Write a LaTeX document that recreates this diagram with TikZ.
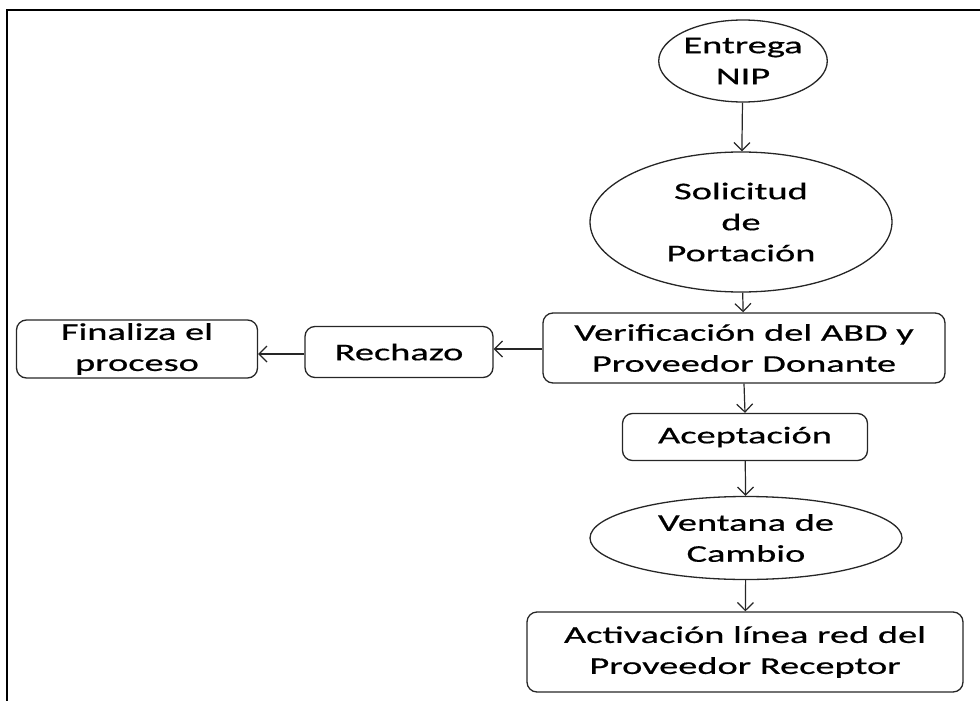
\documentclass[tikz,border=0pt]{standalone}
\usepackage{fontspec}
\setmainfont{Carlito}[FakeStretch=1.6, FakeBold=0.6]
\usetikzlibrary{shapes.geometric,arrows.meta}
\tikzset{
  oval/.style={ellipse, draw=black!85, line width=1.3pt, align=center, inner sep=0pt},
  caja/.style={rectangle, rounded corners=10pt, draw=black!85, line width=1.3pt, align=center, inner sep=0pt},
  flecha/.style={-{Straight Barb[length=8pt,width=16pt]}, line width=1.2pt, black!85},
}
\begin{document}
\begin{tikzpicture}[x=1pt, y=-1pt, font=\fontsize{24}{31}\selectfont]
    \useasboundingbox (0,0) rectangle (980,701);
    % marco
    \draw[line width=1.5pt] (7,701) -- (7,10) -- (980,10);

    \node[oval, minimum width=150pt, minimum height=82pt] (entrega) at (743,61) {Entrega\\NIP};
    \node[oval, minimum width=302pt, minimum height=140pt] (solicitud) at (741,222) {Solicitud\\de\\Portación};
    \node[caja, minimum width=402pt, minimum height=70pt] (verif) at (744,348) {Verificación del ABD y\\Proveedor Donante};
    \node[caja, minimum width=245pt, minimum height=47pt] (acept) at (745,437) {Aceptación};
    \node[oval, minimum width=312pt, minimum height=83pt] (ventana) at (746,538) {Ventana de\\Cambio};
    \node[caja, minimum width=436pt, minimum height=80pt] (activ) at (745,652) {Activación línea red del\\Proveedor Receptor};
    \node[caja, minimum width=188pt, minimum height=51pt] (rechazo) at (399,352) {Rechazo};
    \node[caja, minimum width=241pt, minimum height=58pt] (fin) at (137,349) {Finaliza el\\proceso};

    \draw[flecha] (entrega) -- (solicitud);
    \draw[flecha] (solicitud) -- (verif);
    \draw[flecha] (verif.south) -- (acept.north);
    \draw[flecha] (acept) -- (ventana);
    \draw[flecha] (ventana) -- (activ);
    \draw[flecha] ([yshift=-1pt]verif.west) -- ([yshift=-1pt]verif.west -| rechazo.east);
    \draw[flecha] ([yshift=-2pt]rechazo.west) -- ([yshift=-2pt]rechazo.west -| fin.east);
\end{tikzpicture}
\end{document}
